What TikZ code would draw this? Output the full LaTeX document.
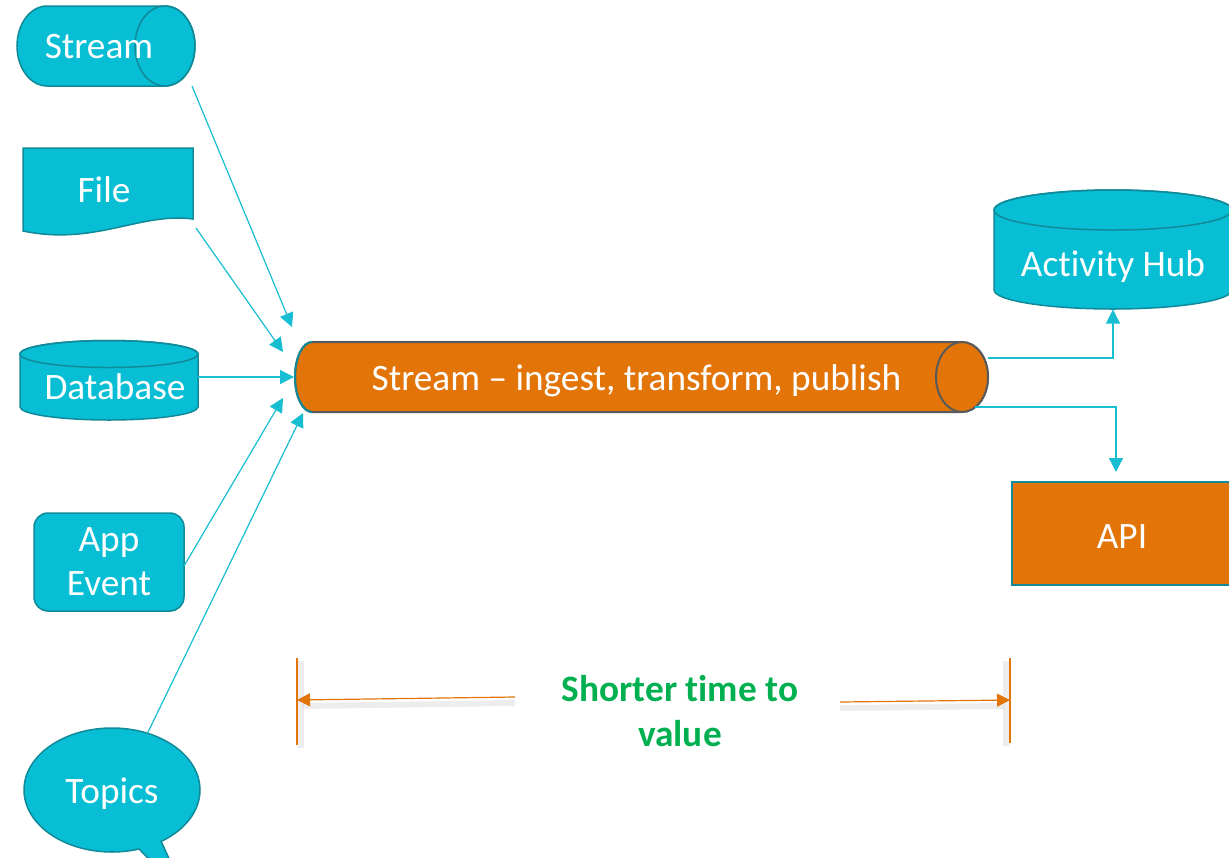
\documentclass[tikz,border=0pt]{standalone}
\usepackage{fontspec}
\setmainfont{Carlito}[Ligatures=NoCommon]
\usetikzlibrary{arrows.meta,shapes.callouts,calc}

\definecolor{tealfill}{RGB}{8,190,213}
\definecolor{tealedge}{RGB}{16,138,153}
\definecolor{flowline}{RGB}{23,190,210}
\definecolor{pipeorange}{RGB}{226,116,8}
\definecolor{pipeedge}{RGB}{90,90,90}
\definecolor{valgreen}{RGB}{0,176,80}

\tikzset{
  big/.style={font=\fontsize{37.3}{44}\selectfont, text=white},
  holder/.style={big, inner sep=0pt, outer sep=0pt},
  fixedtext/.style={text height=24pt, text depth=0pt},
  tealshape/.style={fill=tealfill, draw=tealedge, line width=1.5pt},
  flow/.style={draw=flowline, line width=1.2pt,
    -{Triangle[length=14pt,width=14pt]}},
  outflow/.style={draw=flowline, line width=1.2pt,
    -{Triangle[length=14pt,width=14pt]}},
  tbar/.style={draw=pipeorange, line width=1.2pt},
  tarrow/.style={draw=pipeorange, line width=1.2pt,
    -{Triangle[length=13pt,width=13pt]}},
  tshade/.style={draw=black, opacity=0.07, line width=6pt}
}

\begin{document}
\begin{tikzpicture}[x=1pt,y=1pt]
\useasboundingbox (0,0) rectangle (1229,-857);

% ---------- source: Stream (horizontal cylinder)
\path[tealshape] (47,-6) arc (90:270:30 and 40) -- (165,-86)
   arc (-90:90:30 and 40) -- cycle;
\draw[tealedge, line width=1.5pt] (165,-46) ellipse [x radius=30, y radius=40];
\node[holder, fixedtext, minimum width=178pt, minimum height=80pt] (stream)
   at (106,-46) {Stream\hspace*{14pt}};

% ---------- source: File (document shape)
\path[tealshape] (23,-148) -- (193,-148) -- (193,-219)
   .. controls (140,-212) and (95,-246) .. (23,-231) -- cycle;
\node[holder, fixedtext, minimum width=170pt, minimum height=84pt] (file)
   at (108,-190) {File\hspace*{8pt}};

% ---------- source: Database (vertical cylinder)
\path[tealshape] (20,-354) -- (20,-407) arc (180:360:89 and 13)
   -- (198,-354) arc (0:180:89 and 13.5) -- cycle;
\draw[tealedge, line width=1.5pt] (109,-354) ellipse [x radius=89, y radius=13.5];
\node[holder, fixedtext, minimum width=178pt, minimum height=79pt] (db)
   at (109,-380) {\hspace*{12pt}\raisebox{-7pt}{Database}};

% ---------- source: App Event
\node[holder, tealshape, rounded corners=14pt, minimum width=150pt,
      minimum height=98pt, align=center] (app) at (109,-562) {App\\Event};

% ---------- source: Topics (speech bubble)
\node[holder, fixedtext, tealshape, ellipse callout, minimum width=176pt,
      minimum height=124pt, callout absolute pointer={(188,-900)},
      callout pointer arc=16] (topics) at (112,-790)
      {\raisebox{-1pt}{Topics}};

% ---------- the stream pipe
\path[fill=pipeorange, draw=pipeedge, line width=2pt]
   (312,-342) arc (90:270:17 and 35) -- (962,-412)
   arc (-90:90:26 and 35) -- cycle;
\draw[tealedge, line width=2pt] (312,-342) arc (90:270:17 and 35);
\draw[pipeedge, fill=pipeorange, line width=2pt]
   (962,-377) ellipse [x radius=26, y radius=35];
\node[holder, fixedtext, minimum width=693pt, minimum height=70pt] (pipe)
   at (641.5,-377) {\raisebox{-1pt}{Stream -- ingest, transform, publish}\hspace*{10pt}};

% ---------- targets
\path[tealshape] (994,-210) -- (994,-290) arc (180:360:119 and 19)
   -- (1232,-210) arc (0:180:119 and 20) -- cycle;
\draw[tealedge, line width=1.5pt] (1113,-210) ellipse [x radius=119, y radius=20];
\node[holder, fixedtext, minimum width=238pt, minimum height=119pt] (hub)
   at (1113,-250) {\raisebox{-14pt}{Activity Hub}};

\node[holder, fixedtext, fill=pipeorange, draw=tealedge, line width=2pt,
      minimum width=220pt, minimum height=103pt] (api) at (1122,-533.5)
      {\raisebox{-3pt}{API}};

% ---------- arrow tips at the pipe inlet
\coordinate (inA) at ($(pipe.west)+(-3,50)$);
\coordinate (inB) at ($(pipe.west)+(-12,25)$);
\coordinate (inC) at ($(pipe.west)+(-1,0)$);
\coordinate (inD) at ($(pipe.west)+(-12,-21)$);
\coordinate (inE) at ($(pipe.west)+(8,-36)$);

\draw[flow] ([xshift=-3pt]stream.south east) -- (inA);
\draw[flow] ([yshift=4pt,xshift=3pt]file.south east) -- (inB);
\draw[flow] ([yshift=3pt]db.east) -- (inC);
\draw[flow] ([yshift=-4pt]app.east) -- (inD);
\draw[flow] (topics.58) -- (inE);

% ---------- outputs
\draw[outflow] ([yshift=19pt]pipe.east) -| (hub.south);
\draw[outflow, shorten >=10pt] ([shift={(-13pt,-30pt)}]pipe.east)
   -| ([xshift=-6pt]api.north);

% ---------- time-to-value span
\coordinate (lt) at (297,-658);
\coordinate (lb) at (297,-745);
\coordinate (rt) at (1010,-658);
\coordinate (rb) at (1010,-743);
\coordinate (lm) at (297,-700);
\coordinate (rm) at (1010,-700);
\node[font=\bfseries\fontsize{37.3}{45}\selectfont, text=valgreen, align=center,
      inner sep=0pt] (ttv) at (680,-711) {Shorter time to\\value};
\coordinate (la) at (515,-697);
\coordinate (ra) at (840,-702);

\draw[tshade] ([shift={(4,-3)}]lt) -- ([shift={(4,-3)}]lb);
\draw[tshade] ([shift={(-4,-3)}]rt) -- ([shift={(-4,-3)}]rb);
\draw[tshade] ([shift={(0,-6)}]la) -- ([shift={(6,-6)}]lm);
\draw[tshade] ([shift={(0,-6)}]ra) -- ([shift={(-6,-6)}]rm);
\draw[tbar] (lt) -- (lb);
\draw[tbar] (rt) -- (rb);
\draw[tarrow] (la) -- (lm);
\draw[tarrow] (ra) -- (rm);
\end{tikzpicture}
\end{document}
